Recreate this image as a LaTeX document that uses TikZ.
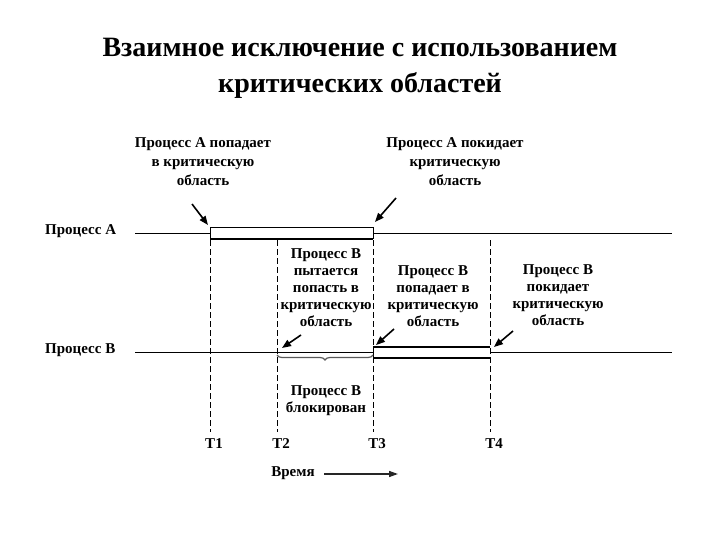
\documentclass[tikz,border=0pt]{standalone}
\usepackage{fontspec}
\setmainfont{Liberation Serif}
\usetikzlibrary{arrows.meta,decorations.pathreplacing}
\begin{document}
\begin{tikzpicture}[x=1pt,y=-1pt,
  lbl/.style={font=\fontsize{15}{19}\selectfont\bfseries,align=center,inner sep=0},
  lbs/.style={font=\fontsize{15}{17}\selectfont\bfseries,align=center,inner sep=0},
  side/.style={font=\fontsize{15}{17}\selectfont\bfseries,anchor=west,inner sep=0},
  ptr/.style={-{Triangle[length=9pt,width=7pt]},line width=1.6pt},
  vdash/.style={dash pattern=on 6pt off 3pt,line width=0.7pt},
  tl/.style={line width=0.7pt}]
\useasboundingbox (0,0) rectangle (720,540);
\node[font=\fontsize{28}{36}\selectfont\bfseries,align=center] (title) at (360,68) {Взаимное исключение с использованием\\критических областей};
\node[side] (pa) at (45,231) {Процесс А};
\node[side] (pb) at (45,350) {Процесс В};
\coordinate (la0) at (135,233); \coordinate (la1) at (672,233);
\coordinate (lb0) at (135,352); \coordinate (lb1) at (672,352);
\draw[tl] (la0) -- (la1);
\draw[tl] (lb0) -- (lb1);
% process A box
\fill[white] (210,227) rectangle (373,239);
\draw[tl] (210,239) -- (210,227) -- (373,227) -- (373,239);
\draw[line width=2.2pt] (210,239) -- (373,239);
% process B box
\fill[white] (373,347) rectangle (490,358);
\draw[line width=2.2pt] (373,347) -- (490,347);
\draw[line width=2.2pt] (373,358) -- (490,358);
\draw[tl] (373,347) -- (373,358);
% dashed verticals
\foreach \x/\n in {210/T1,277/T2,373/T3,490/T4}{
  \coordinate (v\n) at (\x,240);
  \coordinate (w\n) at (\x,432);
  \draw[vdash] (v\n) -- (w\n);
  \node[lbl] (t\n) at (\x+4,444) {\n};
}
% brace
\draw[gray!70!black,line width=1.2pt,decorate,decoration={brace,amplitude=5pt,mirror}] (277,355) -- (373,355);
% texts
\node[lbl] (a1) at (203,162) {Процесс А попадает\\в критическую\\область};
\node[lbl] (a2) at (455,162) {Процесс А покидает\\критическую\\область};
\node[lbs] (b1) at (326,288) {Процесс В\\пытается\\попасть в\\критическую\\область};
\node[lbs] (b2) at (433,296) {Процесс В\\попадает в\\критическую\\область};
\node[lbs] (b3) at (558,295) {Процесс В\\покидает\\критическую\\область};
\node[lbs] (b4) at (326,401) {Процесс В\\блокирован};
% pointers
\coordinate (p1s) at (192,204); \coordinate (p1e) at (208,225);
\coordinate (p2s) at (396,198); \coordinate (p2e) at (375,222);
\coordinate (p3s) at (301,335); \coordinate (p3e) at (282,348);
\coordinate (p4s) at (394,329); \coordinate (p4e) at (376,345);
\coordinate (p5s) at (513,331); \coordinate (p5e) at (494,347);
\foreach \i in {1,...,5}{\draw[ptr] (p\i s) -- (p\i e);}
% time
\node[lbl] (time) at (293,473) {Время};
\coordinate (ts) at (324,474); \coordinate (te) at (398,474);
\draw[-{Triangle[length=9pt,width=6pt]},line width=1.4pt,gray!30!black] (ts) -- (te);
\end{tikzpicture}
\end{document}
